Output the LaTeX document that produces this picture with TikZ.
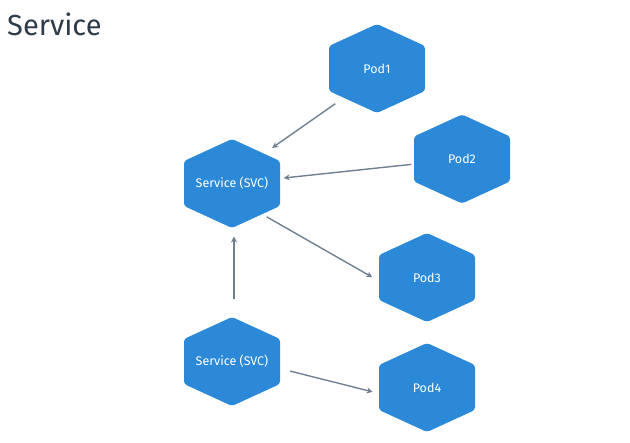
\documentclass[tikz,border=0pt]{standalone}
\usepackage{fontspec}
\setmainfont{Fira Sans}
\usetikzlibrary{arrows.meta, positioning, backgrounds, calc}
\definecolor{hexblue}{RGB}{43, 137, 216}
\definecolor{arrowgray}{RGB}{112, 128, 144}
\definecolor{titleslate}{RGB}{45, 59, 74}

\begin{document}
\begin{tikzpicture}[
    x=1pt, y=-1pt,
    hexnode/.style={
        text=white, inner sep=0pt,
        font=\fontsize{12.5}{15}\selectfont
    },
    hexfill/.style={fill=hexblue, rounded corners=3pt},
    titletext/.style={
        text=titleslate, inner sep=0pt,
        font=\fontsize{29}{34}\selectfont
    },
    arrow/.style={-{Stealth[length=6pt, width=6pt]}, arrowgray, line width=1.4pt}
]
\useasboundingbox (0,0) rectangle (630,443);

% TITLE - top left
\node[titletext, anchor=base west] (title) at (7,36) {Service};

% SERVICES - left column
\node[hexnode] (svc) at (232,183.5) {Service (SVC)};
\node[hexnode] (svc2) at (232,361.5) {Service (SVC)};

% PODS - right side
\node[hexnode] (pod1) at (377,68.5) {Pod1};
\node[hexnode] (pod2) at (462,159) {Pod2};
\node[hexnode] (pod3) at (427,277.5) {Pod3};
\node[hexnode] (pod4) at (427,387.5) {Pod4};

% Hexagons behind the labels
\begin{scope}[on background layer]
\foreach \n in {svc, svc2, pod1, pod2, pod3, pod4}
    \fill[hexfill, shift={(\n)}] (0,-44.5) -- (48,-22.5) -- (48,22.5)
        -- (0,44.5) -- (-48,22.5) -- (-48,-22.5) -- cycle;
\end{scope}

% Arrows
\draw[arrow, shorten <=51pt, shorten >=49pt]
    ([yshift=-6pt]pod1.center) -- ([yshift=7.5pt]svc.center);
\draw[arrow, shorten <=51pt, shorten >=52pt] (pod2.center) -- (svc.center);
\draw[arrow, shorten <=40pt, shorten >=63pt]
    ([yshift=-13.5pt]svc.center) -- ([yshift=-31pt]pod3.center);
\draw[arrow, shorten <=62pt, shorten >=53pt]
    ([xshift=2pt]svc2.center) -- ([xshift=2pt]svc.center);
\draw[arrow, shorten <=60pt, shorten >=56pt]
    ([yshift=5pt]svc2.center) -- ([yshift=-18pt]pod4.center);

\end{tikzpicture}
\end{document}
